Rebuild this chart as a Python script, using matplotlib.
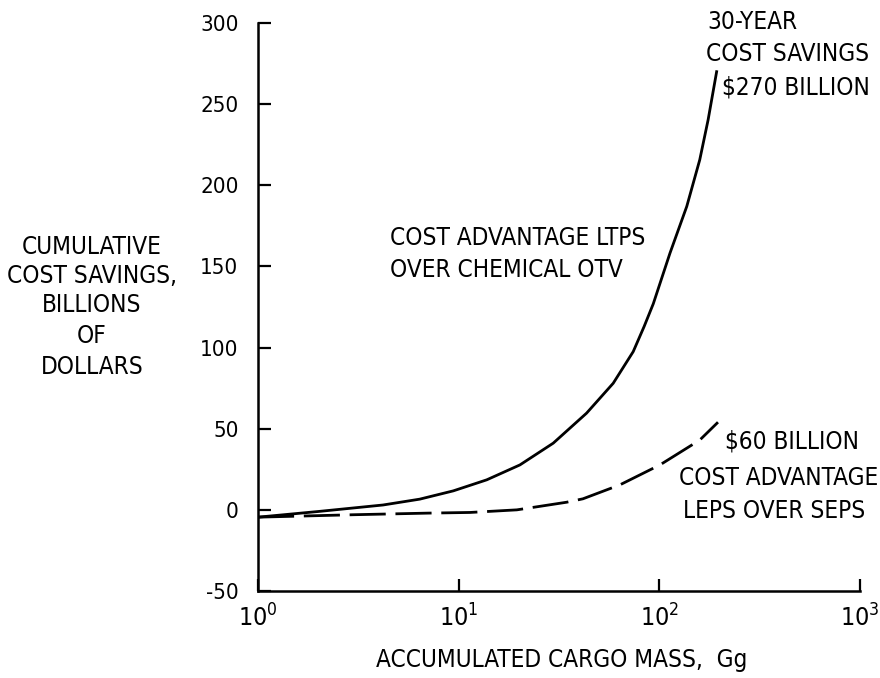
import matplotlib
matplotlib.use("Agg")
import matplotlib.pyplot as plt
from matplotlib import font_manager
from matplotlib.ticker import FixedLocator, NullLocator

# ---- data ----
ltps_mass = [1, 2, 4.2, 6.4, 9.4, 13.8, 20.2, 29.6, 43.4, 58.9, 74.1, 84, 93.3, 113, 137, 159, 175, 193]
ltps_savings = [-4.5, -1, 3, 6.6, 11.7, 18.5, 27.7, 41.1, 59.6, 78, 97.5, 113, 127, 158.2, 187, 215.7, 240.3, 270]

leps_mass = [1, 3, 7.1, 11.4, 19.5, 34.5, 41.6, 63.6, 100.7, 159, 196]
leps_savings = [-4.5, -3, -2, -1.6, 0, 4.7, 6.8, 15.4, 27.7, 43, 54]

x_ticks = [1, 10, 100, 1000]
x_tick_exponents = ["0", "1", "2", "3"]
y_ticks = [-50, 0, 50, 100, 150, 200, 250, 300]

y_label_lines = ["CUMULATIVE", "COST SAVINGS,", "BILLIONS", "OF", "DOLLARS"]
ltps_note = ["COST ADVANTAGE LTPS", "OVER CHEMICAL OTV"]
ltps_total = ["30-YEAR", "COST SAVINGS", "$270 BILLION"]
leps_total = "$60 BILLION"
leps_note = ["COST ADVANTAGE", "LEPS OVER SEPS"]
x_label = "ACCUMULATED CARGO MASS,  Gg"

# ---- font choice ----
names = {f.name for f in font_manager.fontManager.ttflist}
if "Liberation Sans Narrow" in names:
    FAM = ["Liberation Sans Narrow", "DejaVu Sans"]
    STRETCH = "normal"
else:
    FAM = ["DejaVu Sans"]
    STRETCH = "condensed"
plt.rcParams["font.family"] = FAM
plt.rcParams["font.stretch"] = STRETCH
plt.rcParams["mathtext.default"] = "regular"
FS = 17.5
TFS = 16

W, H = 880, 678
fig = plt.figure(figsize=(W / 100, H / 100), dpi=100)
ax = fig.add_axes([258 / W, 1 - 591 / H, (860 - 258) / W, (591 - 23) / H])

ax.plot(ltps_mass, ltps_savings, color="black", lw=2.0, solid_joinstyle="round")
ax.plot(leps_mass, leps_savings, color="black", lw=2.0, dashes=(13, 3.5))

ax.set_xscale("log")
ax.set_xlim(1, 1000)
ax.set_ylim(-50, 300)

ax.spines["top"].set_visible(False)
ax.spines["right"].set_visible(False)
for s in ("left", "bottom"):
    ax.spines[s].set_linewidth(1.8)

ax.xaxis.set_major_locator(FixedLocator(x_ticks))
ax.xaxis.set_minor_locator(NullLocator())
ax.set_xticklabels([r"$\mathregular{10^{%s}}$" % e for e in x_tick_exponents])
ax.set_yticks(y_ticks)
ax.set_yticklabels([str(v) for v in y_ticks])
ax.tick_params(axis="both", direction="in", length=9, width=1.6, labelsize=TFS)
ax.tick_params(axis="y", pad=14)
ax.tick_params(axis="x", pad=10, labelsize=TFS + 2)

def put(x, y, s, ha="left", fs=FS):
    fig.text(x / W, 1 - y / H, s, ha=ha, va="center", fontsize=fs)

for s, y in zip(y_label_lines, [247, 276, 305, 336, 367]):
    put(92, y, s, ha="center")
for s, y in zip(ltps_note, [238, 270]):
    put(390, y, s)
put(707, 22, ltps_total[0])
put(706, 54, ltps_total[1])
put(722, 88, ltps_total[2])
put(725, 442, leps_total)
put(679, 478, leps_note[0])
put(683, 511, leps_note[1])
put(562, 660, x_label, ha="center")

fig.savefig("out.png", dpi=100, facecolor="white")
